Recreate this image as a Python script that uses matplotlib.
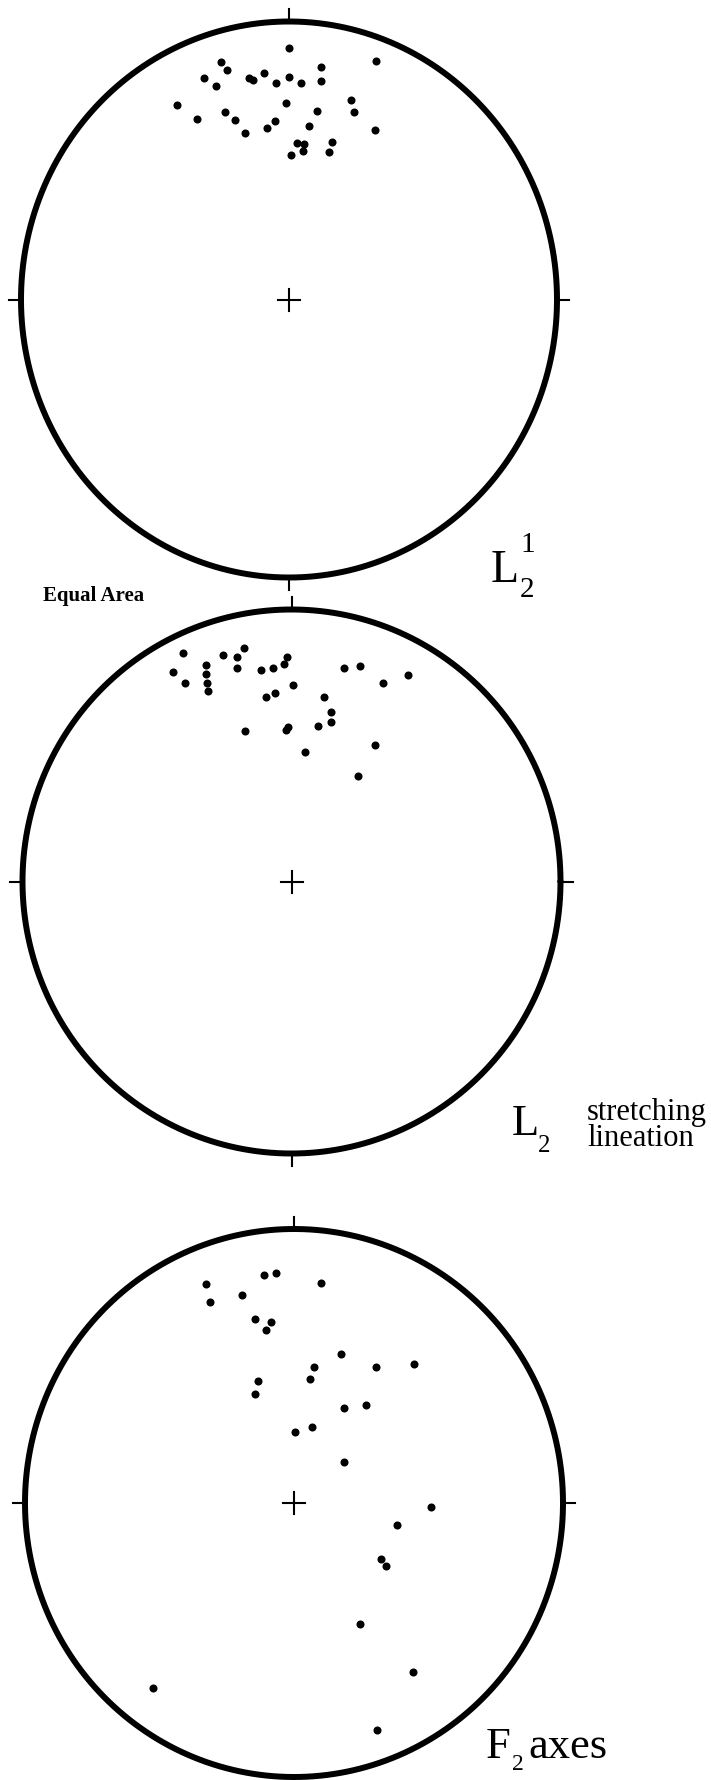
import numpy as np
import matplotlib.pyplot as plt

# Projected point positions on the unit net (x east, y north)
l21_x = [0.000, 0.325, -0.253, -0.233, 0.119, -0.316, -0.151, -0.134, -0.095, 0.000,
         -0.048, 0.043, 0.119, -0.274, -0.418, -0.012, 0.230, 0.243, -0.240, 0.105,
         -0.342, -0.202, -0.054, -0.083, 0.075, -0.165, 0.320, 0.031, 0.056, 0.162,
         0.051, 0.148, 0.007]
l21_y = [0.903, 0.857, 0.854, 0.827, 0.835, 0.798, 0.798, 0.791, 0.816, 0.799,
         0.777, 0.779, 0.787, 0.769, 0.700, 0.708, 0.717, 0.674, 0.673, 0.678,
         0.648, 0.644, 0.641, 0.616, 0.623, 0.598, 0.608, 0.562, 0.561, 0.565,
         0.534, 0.531, 0.521]

l2_x = [-0.404, -0.440, -0.397, -0.316, -0.316, -0.313, -0.309, -0.253, -0.204, -0.204,
        -0.176, -0.115, -0.069, -0.028, -0.016, 0.007, -0.094, -0.060, 0.194, 0.255,
        0.340, 0.433, 0.121, 0.146, 0.146, 0.099, -0.013, -0.020, -0.172, 0.052,
        0.312, 0.246]
l2_y = [0.841, 0.772, 0.729, 0.796, 0.764, 0.729, 0.699, 0.834, 0.827, 0.786,
        0.857, 0.778, 0.785, 0.800, 0.827, 0.722, 0.679, 0.692, 0.786, 0.793,
        0.729, 0.761, 0.678, 0.624, 0.585, 0.570, 0.567, 0.556, 0.553, 0.477,
        0.502, 0.389]

f2_x = [-0.327, -0.313, -0.195, -0.110, -0.068, 0.102, -0.146, -0.085, -0.105, 0.175,
        0.076, 0.305, 0.446, -0.132, 0.059, -0.146, 0.186, 0.266, 0.068, 0.002,
        0.186, 0.508, 0.383, 0.324, 0.342, 0.247, 0.442, -0.524, 0.310]
f2_y = [0.799, 0.732, 0.758, 0.832, 0.841, 0.803, 0.670, 0.659, 0.630, 0.542,
        0.497, 0.497, 0.506, 0.447, 0.453, 0.397, 0.348, 0.359, 0.278, 0.260,
        0.148, -0.015, -0.080, -0.203, -0.229, -0.441, -0.616, -0.676, -0.830]

W, H = 711, 1780
fig = plt.figure(figsize=(W / 100, H / 100), dpi=100)
fig.patch.set_facecolor('white')
serif = ['Liberation Serif', 'DejaVu Serif']


def draw_net(cx, cy, rx, ry, xs, ys):
    # primitive circle in pixel units, axes stretched to rx by ry
    k = 1.12
    ax = fig.add_axes([(cx - k * rx) / W, (H - cy - k * ry) / H,
                       2 * k * rx / W, 2 * k * ry / H])
    ax.set_xlim(-k, k)
    ax.set_ylim(-k, k)
    ax.axis('off')
    t = np.linspace(0, 2 * np.pi, 500)
    ax.plot(np.cos(t), np.sin(t), color='k', lw=4.3, solid_capstyle='round')
    tl = 0.045
    ax.plot([0, 0], [1, 1 + tl], color='k', lw=1.5)
    ax.plot([0, 0], [-1, -1 - tl], color='k', lw=1.5)
    ax.plot([-1, -1 - tl], [0, 0], color='k', lw=1.5)
    ax.plot([1, 1 + tl], [0, 0], color='k', lw=1.5)
    # centre cross
    ax.plot([-11 / rx, 11 / rx], [0, 0], color='k', lw=1.5)
    ax.plot([0, 0], [-11 / ry, 11 / ry], color='k', lw=1.5)
    ax.plot(xs, ys, 'o', color='k', ms=5.8, mec='none')
    return ax


draw_net(289, 299.5, 268, 278, l21_x, l21_y)
draw_net(291.5, 881.5, 269, 272, l2_x, l2_y)
draw_net(294, 1503, 269, 274, f2_x, f2_y)


def label(x, y, s, size, weight='normal'):
    fig.text(x / W, 1 - y / H, s, fontsize=size, family=serif, weight=weight,
             ha='left', va='baseline', color='k')


# L2^1
label(491, 582, 'L', 33)
label(520, 552, '1', 21)
label(520, 597, '2', 21)

label(43, 601, 'Equal Area', 15, 'bold')

# L2 stretching lineation
label(512, 1135, 'L', 32)
label(538, 1152, '2', 18)
label(587, 1120, 'stretching', 22)
label(587, 1146, 'lineation', 22)

# F2 axes
label(486, 1758, 'F', 32)
label(512, 1770, '2', 17)
label(528, 1758, 'axes', 32)

fig.savefig('out.png', dpi=100, facecolor='white')
